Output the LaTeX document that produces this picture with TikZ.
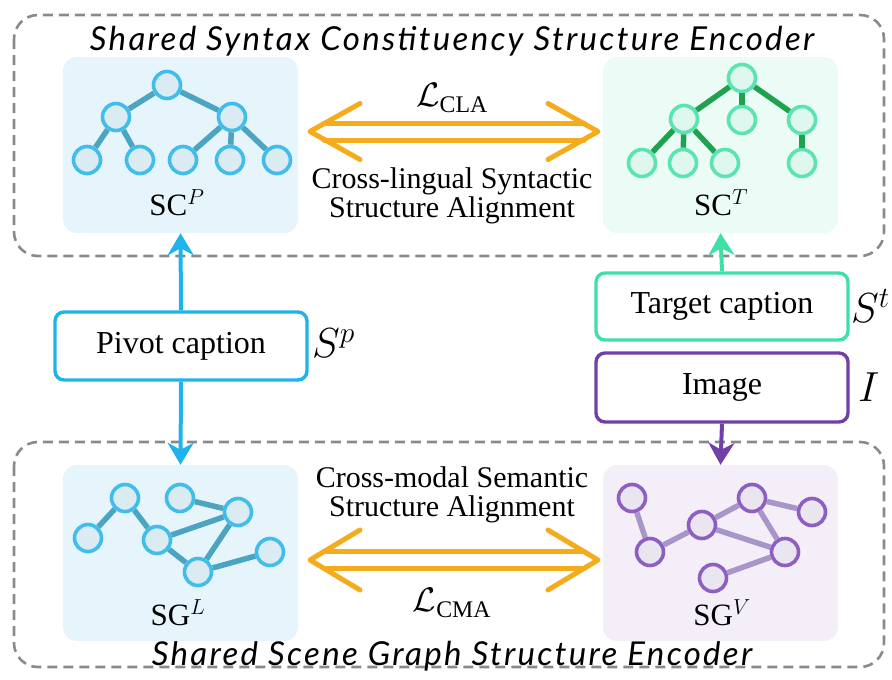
\documentclass[tikz,border=0pt]{standalone}
\usepackage{fix-cm}
\usepackage{fontspec}
\setmainfont{Liberation Serif}
\newfontfamily\handfont{Lato}[LetterSpace=7]
\usetikzlibrary{arrows.meta}

\definecolor{dashgray}{HTML}{8A8A8A}
\definecolor{orng}{HTML}{F4AB1C}
% blue (pivot side)
\definecolor{bstroke}{HTML}{41BDEB}
\definecolor{bfill}{HTML}{DAEBF2}
\definecolor{bedge}{HTML}{4BA5C0}
\definecolor{bpanel}{HTML}{E6F5FC}
\definecolor{bbox}{HTML}{1EB3EC}
% mint (target side)
\definecolor{mstroke}{HTML}{5BE3B0}
\definecolor{mfill}{HTML}{DFF8EF}
\definecolor{medge}{HTML}{1FA24E}
\definecolor{mpanel}{HTML}{EBFCF6}
\definecolor{mbox}{HTML}{3EE0A6}
% purple (image side)
\definecolor{pstroke}{HTML}{8F5EC2}
\definecolor{pfill}{HTML}{E9E6F0}
\definecolor{pedge}{HTML}{A996C9}
\definecolor{ppanel}{HTML}{F3EEF8}
\definecolor{pbox}{HTML}{7040A8}

\tikzset{
  encoder/.style={draw=dashgray, line width=2.6pt, dash pattern=on 10pt off 6pt, rounded corners=24pt},
  panel/.style={rounded corners=14pt, minimum width=235pt, minimum height=176pt, inner sep=0pt},
  vert/.style={circle, minimum size=27pt, inner sep=0pt, line width=3.6pt},
  bvert/.style={vert, draw=bstroke, fill=bfill},
  mvert/.style={vert, draw=mstroke, fill=mfill},
  pvert/.style={vert, draw=pstroke, fill=pfill},
  bline/.style={draw=bedge, line width=5.5pt},
  mline/.style={draw=medge, line width=5.5pt},
  pline/.style={draw=pedge, line width=5.5pt},
  capbox/.style={draw, line width=3.4pt, rounded corners=9pt, fill=white, minimum width=252pt, minimum height=68pt,
    font=\fontsize{32}{36}\selectfont},
  flow/.style={line width=4pt, -{Stealth[length=22pt, width=26pt, inset=7pt]}},
  dbl/.style={draw=orng, line width=5pt, line cap=round, line join=round},
  lbl/.style={font=\fontsize{31}{34}\selectfont},
  alnote/.style={font=\fontsize{30}{29}\selectfont, align=center},
  loss/.style={font=\fontsize{34}{38}\selectfont},
  title/.style={font=\handfont\itshape\fontsize{33}{36}\selectfont},
  sym/.style={font=\fontsize{42}{46}\selectfont, anchor=west, inner sep=0pt},
}

\begin{document}
\begin{tikzpicture}[x=1pt, y=-1pt]
\useasboundingbox (0,0) rectangle (892,680);

% encoder frames
\draw[encoder] (14,15) rectangle (884,256);
\draw[encoder] (14,442) rectangle (884,667);
\node[title] (ttop) at (452,41) {Shared Syntax Constituency Structure Encoder};
\node[title] (tbot) at (452,656) {Shared Scene Graph Structure Encoder};

% structure panels
\node[panel, fill=bpanel] (scp) at (180.5,145) {};
\node[panel, fill=mpanel] (sct) at (720.5,145) {};
\node[panel, fill=bpanel] (sgl) at (180.5,553) {};
\node[panel, fill=ppanel] (sgv) at (720.5,553) {};

% constituency tree, pivot side
\node[bvert] (p0) at (167,85) {};
\node[bvert] (p1) at (116,117) {};
\node[bvert] (p2) at (232,117) {};
\node[bvert] (p3) at (87,160) {};
\node[bvert] (p4) at (140,160) {};
\node[bvert] (p5) at (183,160) {};
\node[bvert] (p6) at (230,160) {};
\node[bvert] (p7) at (277,160) {};
\draw[bline] (p0) -- (p1); \draw[bline] (p0) -- (p2);
\draw[bline] (p1) -- (p3); \draw[bline] (p1) -- (p4);
\draw[bline] (p2) -- (p5); \draw[bline] (p2) -- (p6); \draw[bline] (p2) -- (p7);
\node[lbl] (scpl) at (177,203) {SC$^{P}$};

% constituency tree, target side
\node[mvert] (t0) at (742,78) {};
\node[mvert] (t1) at (684,119) {};
\node[mvert] (t2) at (742,120) {};
\node[mvert] (t3) at (802,120) {};
\node[mvert] (t4) at (642,163) {};
\node[mvert] (t5) at (683,163) {};
\node[mvert] (t6) at (725,163) {};
\node[mvert] (t7) at (802,163) {};
\draw[mline] (t0) -- (t1); \draw[mline] (t0) -- (t2); \draw[mline] (t0) -- (t3);
\draw[mline] (t1) -- (t4); \draw[mline] (t1) -- (t5); \draw[mline] (t1) -- (t6);
\draw[mline] (t3) -- (t7);
\node[lbl] (sctl) at (721,203) {SC$^{T}$};

% scene graph, language side
\node[bvert] (l1) at (88,538) {};
\node[bvert] (l2) at (125,498) {};
\node[bvert] (l3) at (180,498) {};
\node[bvert] (l4) at (238,512) {};
\node[bvert] (l5) at (157,540) {};
\node[bvert] (l6) at (198,572) {};
\node[bvert] (l7) at (270,552) {};
\draw[bline] (l1) -- (l2); \draw[bline] (l2) -- (l5);
\draw[bline] (l5) -- (l4); \draw[bline] (l3) -- (l4);
\draw[bline] (l4) -- (l6); \draw[bline] (l5) -- (l6);
\draw[bline] (l6) -- (l7);
\node[lbl] (sgll) at (178,613) {SG$^{L}$};

% scene graph, visual side
\node[pvert] (v1) at (632,498) {};
\node[pvert] (v2) at (650,552) {};
\node[pvert] (v3) at (702,525) {};
\node[pvert] (v4) at (752,498) {};
\node[pvert] (v5) at (812,512) {};
\node[pvert] (v6) at (785,552) {};
\node[pvert] (v7) at (713,578) {};
\draw[pline] (v1) -- (v2); \draw[pline] (v2) -- (v3);
\draw[pline] (v3) -- (v4); \draw[pline] (v4) -- (v5);
\draw[pline] (v3) -- (v6); \draw[pline] (v4) -- (v6);
\draw[pline] (v6) -- (v7);
\node[lbl] (sgvl) at (722,613) {SG$^{V}$};

% cross-lingual alignment
\node[loss] (lcla) at (452,98) {$\mathcal{L}_{\mathrm{CLA}}$};
\node[alnote] (cla) at (452,196) {Cross-lingual Syntactic\\Structure Alignment};
\begin{scope}[shift={(454,131.5)}]
  \draw[dbl] (-130,-8.5) -- (130,-8.5);
  \draw[dbl] (-130,8.5) -- (130,8.5);
  \draw[dbl] (-94,-28) -- (-144,0) -- (-94,28);
  \draw[dbl] (94,-28) -- (144,0) -- (94,28);
\end{scope}

% cross-modal alignment
\node[alnote] (cma) at (452,495) {Cross-modal Semantic\\Structure Alignment};
\node[loss] (lcma) at (452,603) {$\mathcal{L}_{\mathrm{CMA}}$};
\begin{scope}[shift={(454,560)}]
  \draw[dbl] (-130,-8.5) -- (130,-8.5);
  \draw[dbl] (-130,8.5) -- (130,8.5);
  \draw[dbl] (-94,-30) -- (-144,0) -- (-94,30);
  \draw[dbl] (94,-30) -- (144,0) -- (94,30);
\end{scope}

% inputs
\node[capbox, draw=bbox] (pivot) at (181,346) {Pivot caption};
\node[sym] (sp) at (312,343) {$S^{p}$};
\node[capbox, draw=mbox, minimum height=67pt] (tgt) at (722,306.5) {Target caption};
\node[sym] (st) at (851,306) {$S^{t}$};
\node[capbox, draw=pbox, minimum height=69pt] (img) at (722,387.5) {Image};
\node[sym] (si) at (858,387) {$I$};

% input flows
\draw[flow, draw=bbox, fill=bbox] (pivot.north) -- (scp.south);
\draw[flow, draw=bbox, fill=bbox] (pivot.south) -- (sgl.north);
\draw[flow, draw=mbox, fill=mbox] (tgt.north) -- (sct.south);
\draw[flow, draw=pbox, fill=pbox] (img.south) -- (sgv.north);
\end{tikzpicture}
\end{document}
